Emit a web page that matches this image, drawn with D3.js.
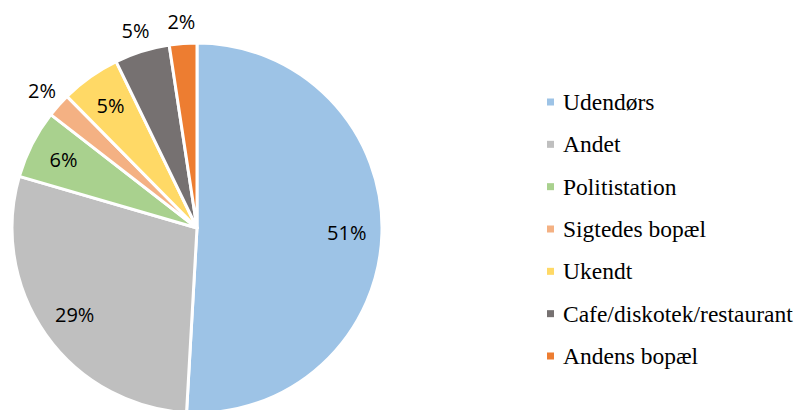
<!DOCTYPE html>
<html><head><meta charset="utf-8">
<script src="https://cdn.jsdelivr.net/npm/d3@7"></script>
<style>body{margin:0;background:#fff}svg{display:block}
.lg text{font-family:"Liberation Serif","Times New Roman",serif}</style>
</head><body>
<svg id="c" width="797" height="410"></svg>
<script>
const categories = ["Udendørs","Andet","Politistation","Sigtedes bopæl","Ukendt","Cafe/diskotek/restaurant","Andens bopæl"];
const values = [50.9, 28.6, 6.0, 2.1, 5.2, 4.8, 2.4];
const colors = ["#9DC3E6","#BFBFBF","#A9D18E","#F4B183","#FFD966","#767171","#ED7D31"];

const svg = d3.select("#c");
const cx = 197, cy = 228, R = 185;
const data = categories.map((c,i)=>({name:c, value:values[i], color:colors[i]}));
const total = d3.sum(values);
const pie = d3.pie().value(d=>d.value).sort(null);
const arcs = pie(data);
const arc = d3.arc().innerRadius(0).outerRadius(R);
const inArc = d3.arc().innerRadius(R*0.81).outerRadius(R*0.81);
const outArc = d3.arc().innerRadius(R*1.12).outerRadius(R*1.12);
const fmt = d3.format(".0%");

const g = svg.append("g").attr("transform",`translate(${cx},${cy})`);
g.selectAll("path").data(arcs).join("path")
  .attr("d",arc).attr("fill",d=>d.data.color)
  .attr("stroke","#fff").attr("stroke-width",3).attr("stroke-linejoin","round");

g.selectAll("text").data(arcs).join("text")
  .attr("transform",d=>`translate(${(d.data.value<5?outArc:inArc).centroid(d)})`)
  .attr("text-anchor","middle").attr("dominant-baseline","central")
  .attr("font-family","'Open Sans', sans-serif").attr("font-size",20).attr("fill","#000")
  .text(d=>fmt(d.data.value/total));

const y = d3.scalePoint().domain(categories).range([102,356]);
const lg = svg.append("g").attr("class","lg");
lg.selectAll("rect").data(data).join("rect")
  .attr("x",547).attr("y",d=>y(d.name)-3.5).attr("width",7).attr("height",7)
  .attr("fill",d=>d.color);
lg.selectAll("text").data(data).join("text")
  .attr("x",563).attr("y",d=>y(d.name)+8)
  .attr("font-size",23.5).attr("fill","#000")
  .text(d=>d.name);
</script>
</body></html>
